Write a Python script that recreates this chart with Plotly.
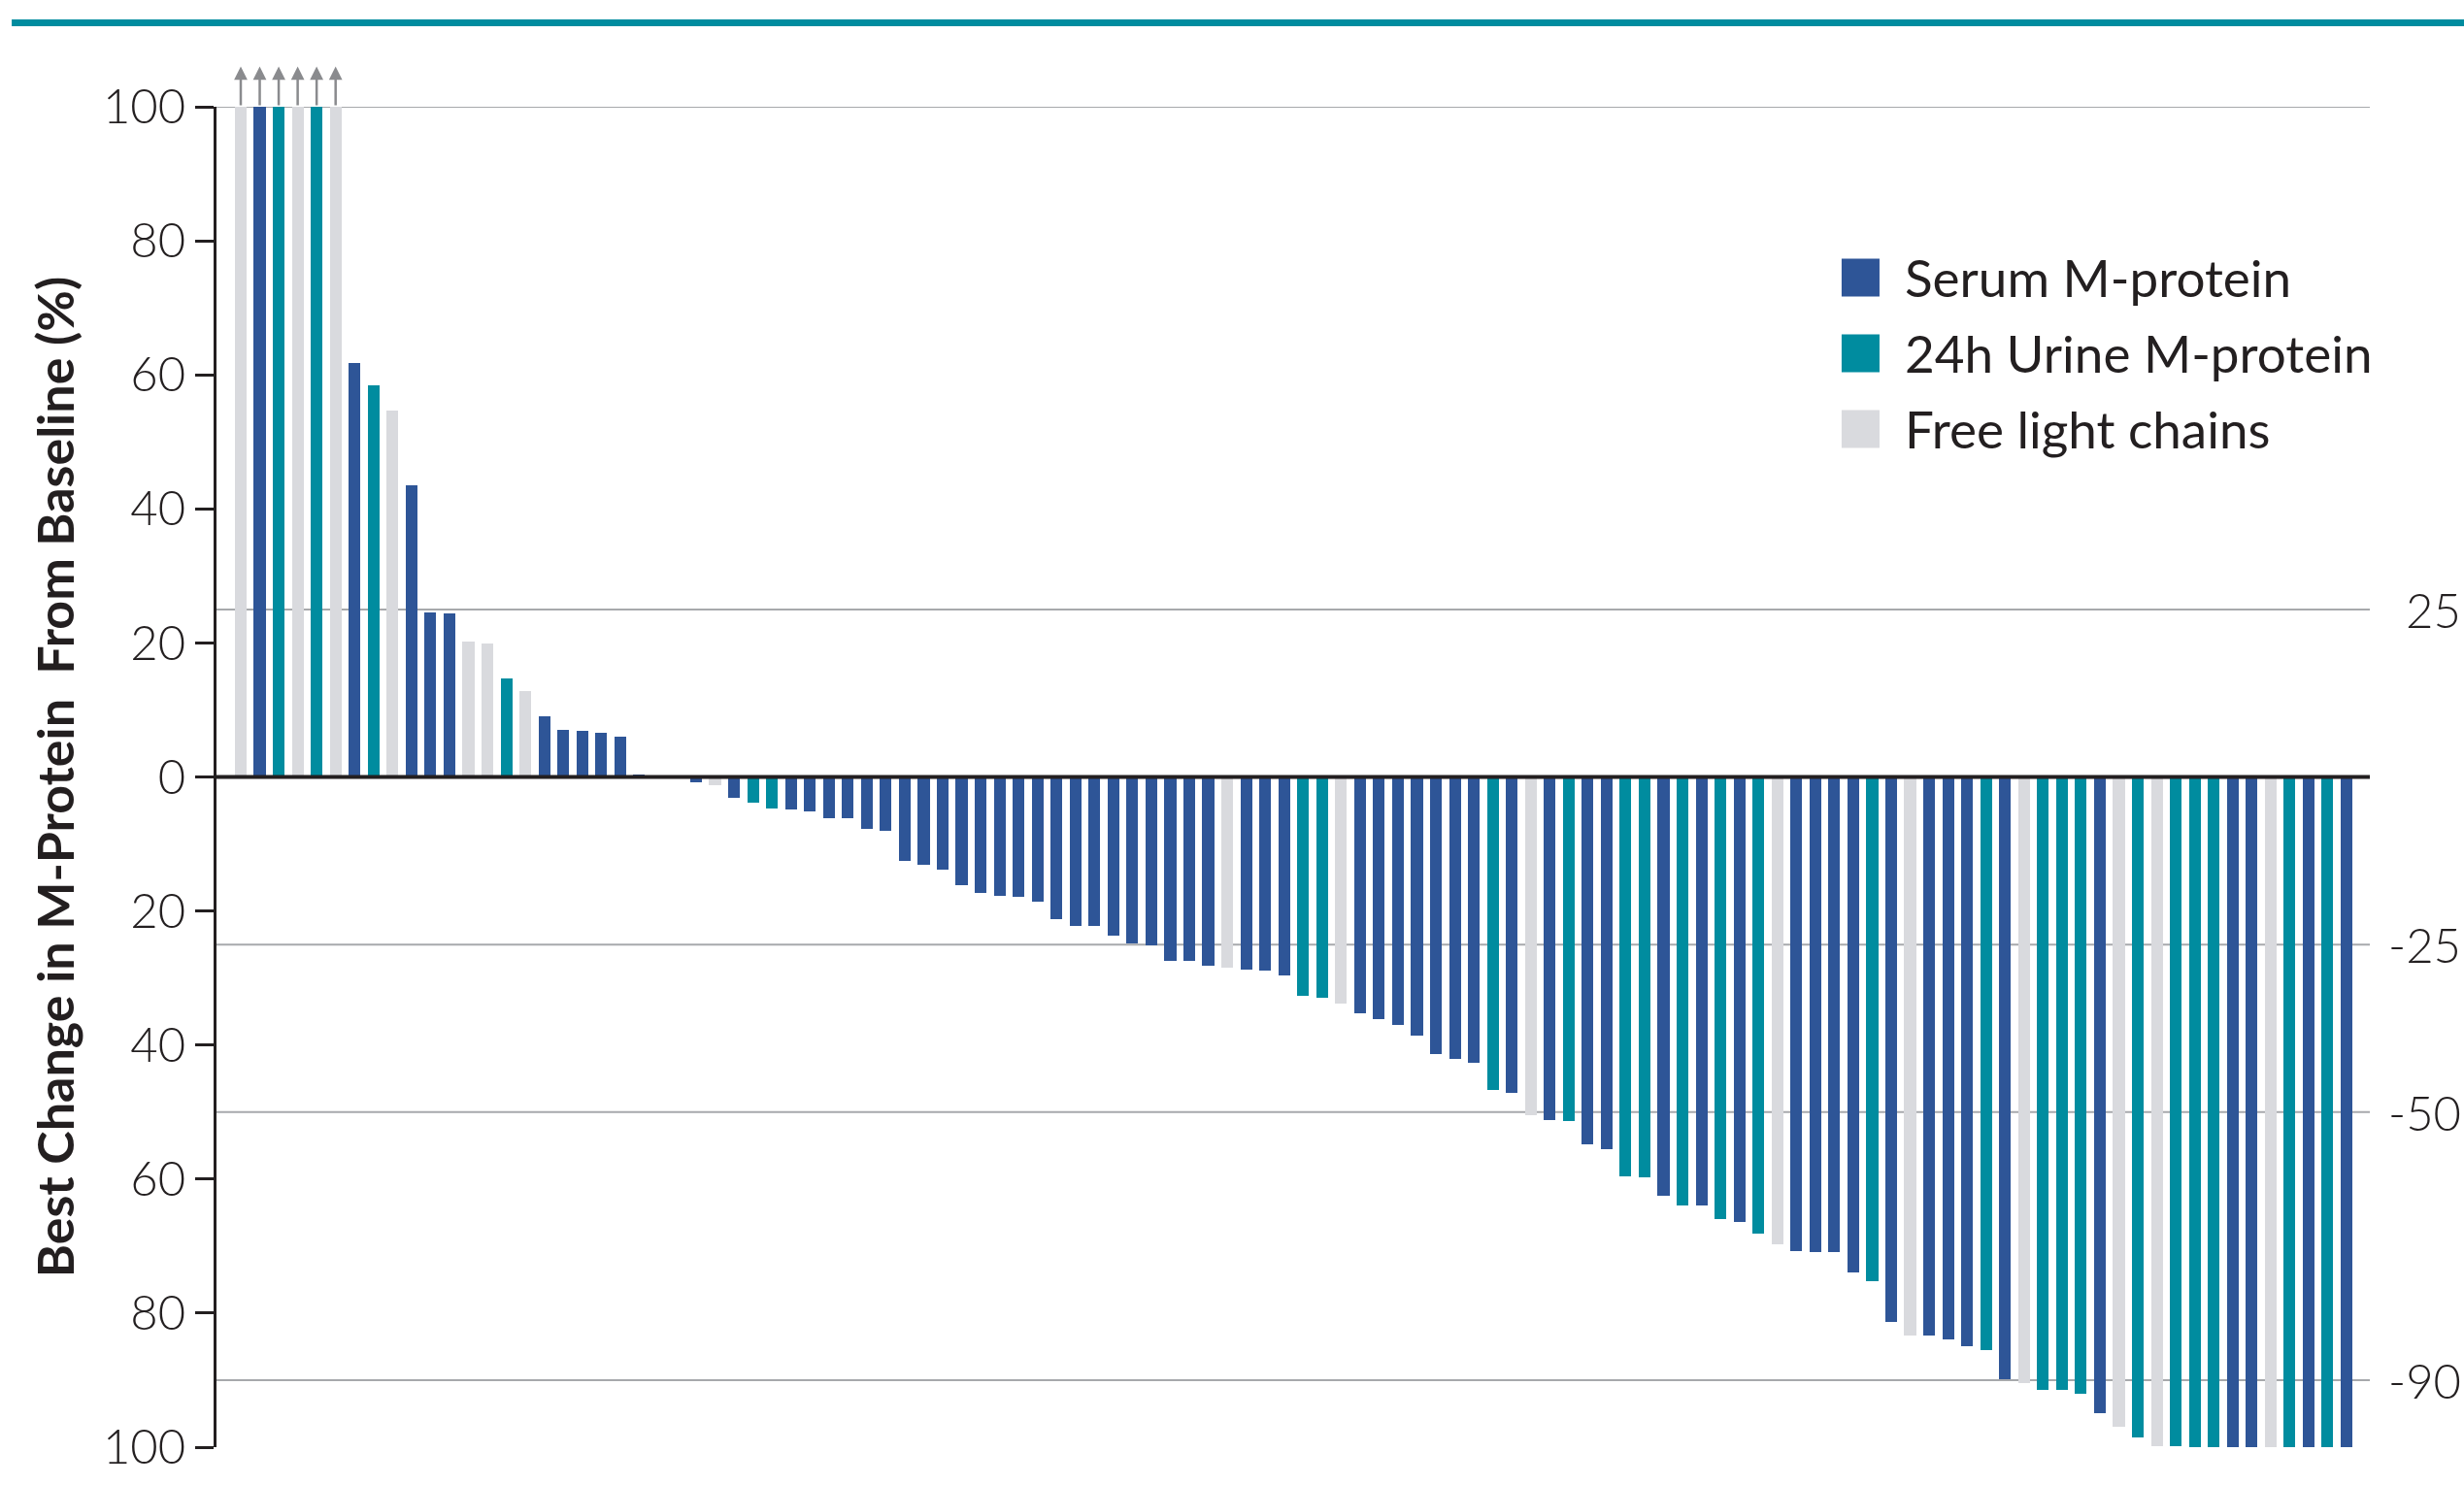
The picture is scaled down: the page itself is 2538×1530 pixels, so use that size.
import plotly.graph_objects as go

# Response category per patient: S = serum M-protein, U = 24h urine M-protein, F = free light chains
category_names = {"S": "Serum M-protein", "U": "24h Urine M-protein", "F": "Free light chains"}
category_order = ["S", "U", "F"]
category_colors = {"S": "#2E5597", "U": "#008C9F", "F": "#D9DADE"}

# Best change from baseline (%), one value per patient in waterfall order (values >100 capped at 100)
best_change = [
    100, 100, 100, 100, 100, 100, 61.7, 58.4, 54.6, 43.5,
    24.5, 24.4, 20.2, 19.9, 14.7, 12.8, 9.0, 7.0, 6.9, 6.6,
    6.0, 0.3, 0.0, 0.0, -0.8, -1.2, -3.1, -3.8, -4.7, -4.8,
    -5.1, -6.1, -6.1, -7.7, -8.0, -12.5, -13.1, -13.8, -16.1, -17.3,
    -17.7, -17.9, -18.6, -21.2, -22.2, -22.3, -23.7, -24.9, -25.1, -27.5,
    -27.5, -28.1, -28.5, -28.7, -28.9, -29.6, -32.6, -33.0, -33.8, -35.2,
    -36.1, -37.0, -38.6, -41.4, -42.0, -42.6, -46.7, -47.1, -50.5, -51.2,
    -51.3, -54.8, -55.5, -59.6, -59.7, -62.5, -64.0, -64.0, -66.0, -66.4,
    -68.1, -69.7, -70.7, -70.9, -70.9, -73.9, -75.3, -81.3, -83.4, -83.4,
    -83.9, -85.0, -85.5, -89.8, -90.4, -91.4, -91.4, -92.0, -94.9, -96.9,
    -98.5, -99.8, -99.8, -100, -100, -100, -100, -100, -100, -100,
    -100, -100,
]
response_type = [
    "F", "S", "U", "F", "U", "F", "S", "U", "F", "S",
    "S", "S", "F", "F", "U", "F", "S", "S", "S", "S",
    "S", "S", "S", "S", "S", "F", "S", "U", "U", "S",
    "S", "S", "S", "S", "S", "S", "S", "S", "S", "S",
    "S", "S", "S", "S", "S", "S", "S", "S", "S", "S",
    "S", "S", "F", "S", "S", "S", "U", "U", "F", "S",
    "S", "S", "S", "S", "S", "S", "U", "S", "F", "S",
    "U", "S", "S", "U", "U", "S", "U", "S", "U", "S",
    "U", "F", "S", "S", "S", "S", "U", "S", "F", "S",
    "S", "S", "U", "S", "F", "U", "U", "U", "S", "F",
    "U", "F", "U", "U", "U", "S", "S", "F", "U", "S",
    "U", "S",
]
patient_rank = list(range(1, len(best_change) + 1))

# Left axis ticks (labelled as magnitude) and reference thresholds on the right
y_tick_values = [-100, -80, -60, -40, -20, 0, 20, 40, 60, 80, 100]
y_tick_labels = ["100", "80", "60", "40", "20", "0", "20", "40", "60", "80", "100"]
threshold_values = [100, 25, -25, -50, -90]
threshold_labels = {25: "25", -25: "-25", -50: "-50", -90: "-90"}

CAP = 100
TEXT_COLOR = "#231F20"
GRID_COLOR = "#A7A9AC"
FONT = "Lato"

fig = go.Figure()

for code in category_order:
    xs = [r for r, t in zip(patient_rank, response_type) if t == code]
    ys = [v for v, t in zip(best_change, response_type) if t == code]
    fig.add_trace(go.Bar(
        x=xs, y=ys, name=category_names[code],
        marker=dict(color=category_colors[code], line=dict(width=0)),
        width=0.62, showlegend=False,
    ))

shapes = []
# threshold gridlines behind the bars
for v in threshold_values:
    shapes.append(dict(type="line", xref="paper", yref="y", x0=0, x1=1, y0=v, y1=v,
                       line=dict(color=GRID_COLOR, width=2), layer="below"))
# baseline
shapes.append(dict(type="line", xref="paper", yref="y", x0=0, x1=1, y0=0, y1=0,
                   line=dict(color=TEXT_COLOR, width=4), layer="above"))
# teal rule under the figure heading
shapes.append(dict(type="line", xref="paper", yref="paper", x0=-0.0951, x1=1.05,
                   y0=1.0626, y1=1.0626, line=dict(color="#008C9F", width=7)))

annotations = []
# arrows for values beyond the axis cap
for r, v in zip(patient_rank, best_change):
    if v >= CAP:
        annotations.append(dict(x=r, y=CAP + 6, ax=r, ay=CAP, xref="x", yref="y",
                                axref="x", ayref="y", text="", showarrow=True,
                                arrowhead=2, arrowsize=1.1, arrowwidth=2.5,
                                arrowcolor="#8A8B8E"))
# right-hand threshold labels
for v, lab in threshold_labels.items():
    annotations.append(dict(x=1.0432, y=v, xref="paper", yref="y", text=lab,
                            showarrow=False, xanchor="right", yanchor="middle",
                            font=dict(family=FONT, size=49, color=TEXT_COLOR, weight=300)))

# legend drawn as large swatches with labels
legend_rows_y = [0.8726, 0.8161, 0.7596]
half_h = 0.01412
for code, yc in zip(category_order, legend_rows_y):
    shapes.append(dict(type="rect", xref="paper", yref="paper",
                       x0=0.7547, x1=0.7723, y0=yc - half_h, y1=yc + half_h,
                       fillcolor=category_colors[code], line=dict(width=0)))
    annotations.append(dict(x=0.7831, y=yc, xref="paper", yref="paper",
                            text=category_names[code], showarrow=False,
                            xanchor="left", yanchor="middle",
                            font=dict(family=FONT, size=53, color=TEXT_COLOR)))

fig.update_layout(
    width=2538, height=1530,
    margin=dict(l=223, r=97, t=110, b=39, autoexpand=False),
    paper_bgcolor="white", plot_bgcolor="white",
    barmode="overlay", bargap=0,
    shapes=shapes, annotations=annotations,
    font=dict(family=FONT, color=TEXT_COLOR),
)
fig.update_xaxes(range=[-0.279, 113.23], showticklabels=False, showgrid=False,
                 zeroline=False, showline=False, ticks="")
fig.update_yaxes(
    range=[-100, 100], tickvals=y_tick_values, ticktext=y_tick_labels,
    showgrid=False, zeroline=False, showline=True, linecolor=TEXT_COLOR, linewidth=3,
    ticks="outside", ticklen=19, tickwidth=3, tickcolor=TEXT_COLOR,
    tickfont=dict(family=FONT, size=49, color=TEXT_COLOR, weight=300),
    ticklabelstandoff=0, automargin=False,
    title=dict(text="Best Change in M-Protein  From Baseline (%)",
               font=dict(family=FONT, size=52, color=TEXT_COLOR, weight=700),
               standoff=13),
)

fig.write_html("out.html")
